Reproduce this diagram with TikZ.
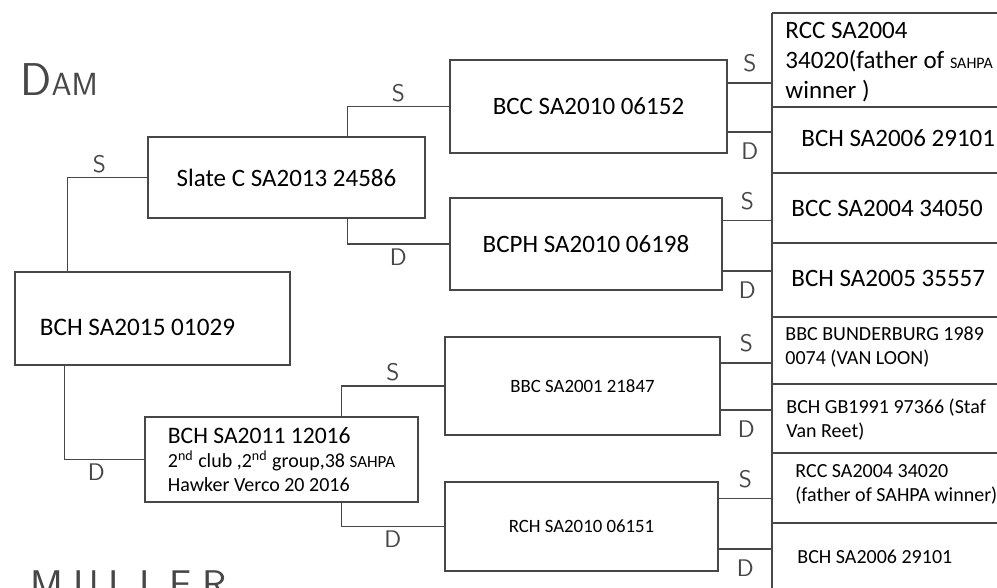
\documentclass[tikz,border=0pt]{standalone}
\usepackage{fontspec}
\setmainfont{Carlito}
\usetikzlibrary{calc}
\colorlet{penline}{black!72}
\tikzset{
    box/.style n args={2}{draw=penline, line width=0.7pt,
        minimum width=#1, minimum height=#2, inner sep=2pt, align=left},
    link/.style={draw=penline, line width=0.7pt},
    cell/.style={anchor=west, inner sep=0pt, align=left},
    hand/.style={font=\sffamily\fontsize{12}{12}\selectfont, text=penline, inner sep=2pt},
    big/.style={font=\fontsize{12.5}{15}\selectfont},
    small/.style={font=\fontsize{10}{12}\selectfont}
}

\begin{document}
\begin{tikzpicture}[x=0.5pt,y=-0.5pt]
  % Frame
    \useasboundingbox (0,0) rectangle (997,588);

  % The birds
    \node[box={137.5pt}{46.5pt}, font=\fontsize{12.6}{14}\selectfont] (bird) at (152.5,318.5)
      {BCH SA2015 01029\hspace{15pt}\rule{0pt}{17pt}};
    \node[box={138.5pt}{40.5pt}, big] (sire) at (286.5,177.5) {Slate C SA2013 24586};
    \node[box={136.5pt}{42.5pt}, small] (dam) at (281.5,459.5)
      {{\fontsize{11.8}{12}\selectfont BCH SA2011 12016}\\
       2\textsuperscript{nd} club ,2\textsuperscript{nd} group,38 {\fontsize{8.5}{12}\selectfont SAHPA}\\
       Hawker Verco 20 2016};
    \node[box={138.5pt}{46.5pt}, big] (ss) at (588.5,106.5) {BCC SA2010 06152};
    \node[box={136pt}{46pt}, big] (sd) at (586,244) {BCPH SA2010 06198};
    \node[box={137.5pt}{49pt}, font=\fontsize{9.4}{11}\selectfont] (ds) at (582.5,386) {BBC SA2001 21847};
    \node[box={136.5pt}{44.5pt}, font=\fontsize{9.4}{11}\selectfont] (dd) at (581.5,526.5) {RCH SA2010 06151};

  % Links to the parents
    \draw[link] ($(bird.north west)+(53,0)$) |- (sire.west) node[hand, pos=0.7, above] {S};
    \draw[link] ($(bird.south west)+(50,0)$) |- (dam.west) node[hand, pos=0.7, below] {D};
    \draw[link] ($(sire.north west)+(200,0)$) |- (ss.west) node[hand, pos=0.75, above] {S};
    \draw[link] ($(sire.south west)+(200,0)$) |- (sd.west) node[hand, pos=0.75, below] {D};
    \draw[link] ($(dam.north west)+(197,0)$) |- (ds.west) node[hand, pos=0.75, above] {S};
    \draw[link] ($(dam.south west)+(197,0)$) |- (dd.west) node[hand, pos=0.75, below] {D};

  % Column of grand parents
    \coordinate (coltop) at (772,13);
    \coordinate (colbot) at (772,588);
    \draw[link] (coltop) -- (colbot);
    \foreach \y in {13,107,173,243,317,384,453,523}
      \draw[link] (coltop |- 0,\y) -- (997,\y);

    \foreach \b/\fs/\fd in {ss/0.25/0.77, sd/0.25/0.79, ds/0.27/0.74, dd/0.19/0.75} {
      \coordinate (s\b) at ($(\b.north east)!\fs!(\b.south east)$);
      \coordinate (d\b) at ($(\b.north east)!\fd!(\b.south east)$);
      \draw[link] (s\b) -- (s\b -| coltop) node[hand, midway, above=3pt] {S};
      \draw[link] (d\b) -- (d\b -| coltop) node[hand, midway, below=3pt] {D};
    }

    \node[cell, big] (sss) at (785,62)
      {RCC SA2004\\34020(father of {\fontsize{8}{8}\selectfont SAHPA}\\winner )};
    \node[cell, big] (ssd) at (801,138) {BCH SA2006 29101};
    \node[cell, big] (sds) at (791,208) {BCC SA2004 34050};
    \node[cell, big] (sdd) at (791,278) {BCH SA2005 35557};
    \node[cell, small] (dss) at (785,347) {BBC BUNDERBURG 1989\\0074 (VAN LOON)};
    \node[cell, small] (dsd) at (786,420) {BCH GB1991 97366 (Staf\\Van Reet)};
    \node[cell, small] (dds) at (795,484) {RCC SA2004 34020\\(father of SAHPA winner)};
    \node[cell, small] (ddd) at (797,557) {BCH SA2006 29101};

  % Hand written names
    \node[hand, anchor=west] (damtag) at (16,80)
      {{\fontsize{23}{23}\selectfont D}{\fontsize{16}{16}\selectfont AM}};
    \node[hand, anchor=north west] (mullertag) at (26,566)
      {\fontsize{20}{20}\selectfont M\hspace{5pt}U\hspace{5pt}L\hspace{5pt}L\hspace{5pt}E\hspace{5pt}R};
\end{tikzpicture}
\end{document}
